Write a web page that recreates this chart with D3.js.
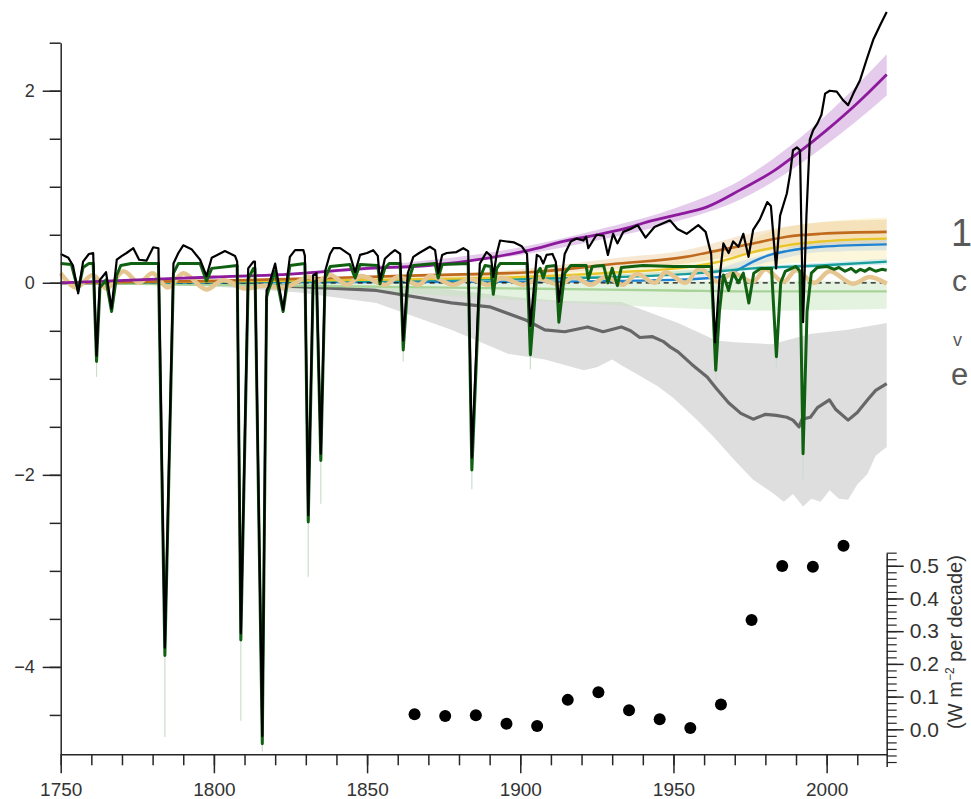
<!DOCTYPE html>
<html>
<head>
<meta charset="utf-8">
<script src="https://cdn.jsdelivr.net/npm/d3@7"></script>
<style>
  body { margin: 0; background: #fff; }
  svg { display: block; }
  text { font-family: "Liberation Sans", Arial, sans-serif; }
</style>
</head>
<body>
<svg id="chart" width="971" height="799"></svg>
<script>
// total forcing (black), [year, W m-2]
var totalForcing = [
    [1750.0,0.30],[1752.5,0.26],[1754.0,0.18],[1755.7,-0.11],[1757.3,0.22],[1759.2,0.30],[1760.6,0.31],
    [1761.7,-0.76],[1762.8,0.03],[1764.8,0.11],[1766.6,-0.27],[1768.3,0.24],[1770.0,0.28],[1771.5,0.31],
    [1773.7,0.36],[1775.6,0.24],[1778.0,0.23],[1780.2,0.37],[1781.9,0.36],[1784.0,-3.80],[1786.8,0.20],
    [1788.4,0.31],[1790.0,0.39],[1792.7,0.35],[1795.5,0.24],[1797.6,0.07],[1799.3,0.26],[1803.6,0.33],
    [1806.9,0.28],[1807.6,0.22],[1808.8,-3.65],[1811.2,0.15],[1812.9,0.22],[1813.4,0.22],[1815.8,-4.72],
    [1817.2,-0.08],[1817.8,-0.04],[1820.0,0.20],[1822.6,-0.28],[1824.8,0.27],[1826.5,0.34],[1829.2,0.34],
    [1829.7,0.28],[1830.8,-2.42],[1832.4,0.08],[1833.5,0.10],[1834.9,-1.78],[1836.3,0.12],[1837.9,0.30],
    [1839.0,0.36],[1841.2,0.36],[1844.4,0.29],[1846.1,0.11],[1847.7,0.29],[1850.0,0.31],[1852.0,0.34],
    [1853.5,0.28],[1854.2,0.02],[1855.8,0.25],[1857.5,0.30],[1859.1,0.34],[1860.8,0.30],[1861.8,-0.60],
    [1863.3,0.10],[1865.1,0.27],[1867.0,0.31],[1870.5,0.375],[1872.2,0.34],[1873.2,0.10],[1874.5,0.29],
    [1876.0,0.31],[1879.2,0.32],[1881.4,0.36],[1883.0,0.33],[1884.2,-1.82],[1886.8,0.20],[1889.0,0.32],
    [1890.4,0.28],[1891.2,0.06],[1892.3,0.30],[1893.4,0.44],[1895.6,0.43],[1898.0,0.42],[1900.5,0.38],
    [1902.2,0.30],[1903.3,-0.45],[1905.4,0.29],[1906.5,0.27],[1907.5,0.20],[1908.6,0.29],[1910.5,0.30],
    [1911.6,0.22],[1912.6,-0.20],[1914.5,0.30],[1916.5,0.43],[1918.4,0.46],[1920.6,0.44],[1921.5,0.48],
    [1922.2,0.36],[1924.9,0.50],[1927.2,0.49],[1928.6,0.29],[1930.3,0.51],[1931.7,0.41],[1933.6,0.53],
    [1936.0,0.56],[1938.3,0.60],[1940.9,0.47],[1943.8,0.58],[1948.9,0.65],[1951.3,0.56],[1954.3,0.51],
    [1958.1,0.60],[1960.5,0.53],[1962.3,0.30],[1963.6,-0.62],[1965.0,0.03],[1966.3,0.41],[1968.0,0.31],
    [1969.5,0.43],[1971.2,0.375],[1972.8,0.51],[1974.5,0.27],[1976.0,0.55],[1978.2,0.66],[1980.6,0.84],
    [1981.8,0.80],[1983.5,0.15],[1984.8,0.70],[1987.0,0.93],[1988.1,1.14],[1989.0,1.38],[1990.3,1.41],
    [1991.3,1.38],[1992.3,-0.41],[1993.4,0.70],[1994.5,1.49],[1995.6,1.59],[1997.0,1.66],[1998.3,1.75],
    [1999.5,1.97],[2001.0,2.00],[2003.3,1.99],[2005.4,1.90],[2007.0,1.85],[2008.7,1.97],[2010.9,2.11],
    [2013.0,2.32],[2015.2,2.53],[2017.4,2.68],[2019.6,2.82]
];

// volcanic forcing (dark green)
var volcanic = [
    [1750.0,0.20],[1753.5,0.19],[1755.7,-0.08],[1757.3,0.16],[1759.2,0.20],[1760.6,0.20],[1761.7,-0.82],
    [1762.8,-0.05],[1764.8,0.03],[1766.6,-0.30],[1768.3,0.08],[1769.6,0.18],[1773.0,0.20],[1781.9,0.20],
    [1784.0,-3.88],[1786.8,0.10],[1788.4,0.20],[1795.5,0.20],[1797.6,0.02],[1799.3,0.15],[1807.6,0.18],
    [1808.8,-3.72],[1811.2,0.04],[1812.9,0.15],[1813.4,0.15],[1815.8,-4.80],[1817.2,-0.15],[1817.8,-0.08],
    [1820.0,0.12],[1822.6,-0.30],[1824.8,0.18],[1829.7,0.20],[1830.8,-2.49],[1832.4,0.00],[1833.5,0.02],
    [1834.9,-1.85],[1836.3,0.05],[1838.0,0.17],[1844.4,0.19],[1846.1,0.05],[1847.7,0.19],[1853.5,0.18],
    [1854.2,-0.01],[1855.8,0.15],[1857.2,0.20],[1860.8,0.20],[1861.8,-0.70],[1863.3,0.00],[1865.1,0.18],
    [1872.2,0.20],[1873.2,0.05],[1874.5,0.19],[1883.0,0.20],[1884.2,-1.95],[1886.8,0.05],[1888.5,0.18],
    [1890.4,0.17],[1891.2,-0.12],[1892.3,0.15],[1893.4,0.20],[1902.2,0.20],[1903.3,-0.75],[1905.4,0.10],
    [1906.5,0.15],[1907.5,0.05],[1908.6,0.17],[1911.6,0.18],[1912.6,-0.41],[1914.5,0.10],[1916.5,0.18],
    [1921.5,0.18],[1922.2,0.04],[1923.5,0.17],[1927.2,0.18],[1928.6,0.00],[1930.0,0.15],[1931.7,-0.03],
    [1933.0,0.16],[1940.0,0.18],[1950.0,0.17],[1962.3,0.17],[1963.8,-0.91],[1965.0,-0.30],[1966.3,0.08],
    [1968.0,-0.08],[1969.5,0.10],[1971.2,0.00],[1972.8,0.10],[1974.6,-0.21],[1976.2,0.10],[1978.5,0.15],
    [1982.0,0.15],[1983.6,-0.77],[1985.0,0.00],[1986.5,0.12],[1990.0,0.17],[1991.3,0.12],[1992.3,-1.78],
    [1993.6,-0.30],[1995.0,0.10],[1997.0,0.16],[2000.0,0.17],[2002.5,0.14],[2004.0,0.16],[2006.0,0.12],
    [2008.0,0.15],[2009.5,0.11],[2011.0,0.14],[2012.5,0.12],[2014.0,0.15],[2016.0,0.12],[2018.0,0.14],
    [2019.6,0.13]
];

// faint tails below the volcanic spikes: [year, tip, tail]
var volcanicTails = [
    [1761.7,-0.82,-0.98],[1784.0,-3.88,-4.73],[1808.8,-3.72,-4.56],[1815.8,-4.80,-4.88],[1830.8,-2.49,-3.06],
    [1834.9,-1.85,-2.30],[1861.8,-0.70,-0.82],[1884.2,-1.95,-2.15],[1903.3,-0.75,-0.90],[1912.6,-0.41,-0.50],
    [1963.8,-0.91,-1.02],[1983.6,-0.77,-0.90],[1992.3,-1.78,-2.05]
];

// CO2 (purple)
var co2 = [
    [1750,0.00],[1775,0.03],[1800,0.06],[1825,0.09],[1850,0.15],[1870,0.18],[1890,0.26],[1903,0.34],
    [1914,0.43],[1925,0.50],[1936,0.58],[1940,0.62],[1950,0.70],[1961,0.79],[1972,0.97],[1983,1.17],
    [1991,1.36],[2000,1.59],[2010,1.87],[2019.6,2.17]
];
var co2Band = [
    [1750,0,0],[1850,0.13,0.17],[1900,0.29,0.37],[1925,0.44,0.55],[1950,0.63,0.77],[1972,0.87,1.07],
    [1991,1.23,1.50],[2000,1.44,1.75],[2010,1.69,2.06],[2019.6,1.95,2.38]
];

// aerosols (grey)
var aerosol = [
    [1750,0.00],[1800,-0.01],[1828,-0.04],[1853,-0.08],[1877.5,-0.21],[1890,-0.25],[1902,-0.39],[1908,-0.49],
    [1914.5,-0.51],[1922,-0.46],[1927,-0.51],[1933,-0.46],[1936,-0.50],[1939,-0.57],[1943,-0.56],[1946.6,-0.61],
    [1949,-0.67],[1951.5,-0.72],[1956,-0.85],[1961,-0.98],[1964,-1.10],[1968,-1.25],[1972,-1.36],[1976,-1.42],
    [1980,-1.37],[1983.6,-1.38],[1987,-1.40],[1989,-1.43],[1991,-1.50],[1992,-1.42],[1994.7,-1.40],[1997,-1.30],
    [2000.9,-1.22],[2003,-1.32],[2007,-1.43],[2010,-1.35],[2013.3,-1.22],[2016,-1.12],[2019.6,-1.05]
];
var aerosolUpper = [
    [1750,0],[1828,-0.01],[1853,-0.03],[1877,-0.07],[1890,-0.12],[1902,-0.16],[1914,-0.19],[1933,-0.20],
    [1939,-0.27],[1951.5,-0.42],[1964,-0.60],[1970,-0.62],[1982,-0.64],[1995,-0.53],[2007,-0.49],[2019.6,-0.42]
];
var aerosolLower = [
    [1750,0],[1800,-0.04],[1828,-0.10],[1853,-0.21],[1877.5,-0.49],[1896,-0.74],[1908,-0.80],[1920.7,-0.91],
    [1925,-0.88],[1930,-0.80],[1933,-0.86],[1938,-0.95],[1945,-1.08],[1950,-1.20],[1957.7,-1.43],[1963,-1.60],
    [1970,-1.85],[1976,-2.05],[1982.4,-2.19],[1986,-2.28],[1989,-2.20],[1992.3,-2.33],[1995,-2.25],[1998,-2.28],
    [2001,-2.16],[2004,-2.25],[2007,-2.26],[2010,-2.10],[2013.3,-1.99],[2016,-1.80],[2019.6,-1.71]
];

// methane (brown), ozone (yellow), halogens (blue), N2O (teal), land use (light green)
var methane = [
    [1750,0.00],[1800,0.02],[1838,0.05],[1870,0.08],[1903,0.11],[1932,0.20],[1954,0.27],[1965,0.34],
    [1976,0.41],[1987,0.48],[1998,0.51],[2019.6,0.53]
];
var methaneBand = [
    [1750,0,0],[1850,0.03,0.07],[1900,0.08,0.14],[1932,0.15,0.26],[1954,0.20,0.34],[1976,0.31,0.52],
    [1998,0.39,0.63],[2019.6,0.41,0.66]
];
var ozone = [
    [1750,0.00],[1850,0.03],[1900,0.06],[1932,0.11],[1954,0.16],[1965,0.22],[1976,0.32],[1987,0.39],
    [1998,0.43],[2019.6,0.46]
];
var ozoneBand = [
    [1750,0,0],[1900,0.03,0.09],[1932,0.06,0.16],[1965,0.12,0.33],[1987,0.20,0.58],[2019.6,0.24,0.68]
];
var halogens = [
    [1750,0.00],[1900,0.01],[1950,0.03],[1965,0.06],[1970.6,0.13],[1976,0.22],[1981.5,0.29],[1987,0.33],
    [1998,0.375],[2019.6,0.40]
];
var halogensBand = [[1750,0,0],[1950,0.02,0.04],[1976,0.18,0.26],[1998,0.32,0.43],[2019.6,0.34,0.46]];
var n2o = [[1750,0.00],[1850,0.02],[1900,0.04],[1932,0.06],[1954,0.09],[1976,0.15],[1998,0.18],[2019.6,0.22]];
var n2oBand = [[1750,0,0],[1900,0.03,0.05],[1976,0.13,0.17],[2019.6,0.19,0.25]];
var landUse = [[1750,0.00],[1800,-0.02],[1850,-0.04],[1900,-0.06],[1950,-0.08],[1980,-0.09],[2019.6,-0.09]];
var landUseBand = [
    [1750,0,0],[1800,-0.04,0.00],[1850,-0.09,0.00],[1900,-0.18,0.01],[1950,-0.26,0.02],[1980,-0.29,0.02],
    [2019.6,-0.27,0.02]
];

// solar (tan), peaks and troughs of the cycles
var solar = [
    [1750,0.10],[1755,-0.05],[1760.5,0.08],[1765,-0.06],[1770.5,0.12],[1775.5,0.00],[1780,0.10],[1785,-0.05],
    [1790,0.10],[1797.5,-0.07],[1803,0.03],[1810,-0.06],[1816,-0.03],[1823,-0.05],[1831,0.06],[1834,0.02],
    [1838,0.08],[1843.5,-0.02],[1848,0.07],[1856,-0.02],[1860,0.06],[1867,-0.02],[1870.5,0.07],[1878,-0.02],
    [1883.5,0.04],[1889.5,-0.02],[1894,0.05],[1901,-0.02],[1906,0.04],[1913,-0.02],[1917.5,0.06],[1923,-0.02],
    [1928,0.06],[1933.5,-0.02],[1938,0.09],[1944,0.00],[1947.5,0.11],[1954,0.00],[1958.5,0.15],[1964.5,0.01],
    [1969.5,0.10],[1976,0.01],[1980,0.14],[1986,0.01],[1990,0.13],[1996,0.00],[2001,0.12],[2008.5,-0.01],
    [2014,0.06],[2019.6,-0.01]
];

// decadal rate of change, right axis (W m-2 per decade)
var decadeMid = [1865.5,1875.5,1885.5,1895.5,1905.5,1915.5,1925.5,1935.5,1945.5,1955.5,1965.5,1975.5,1985.5,1995.5,2005.5];
var decadeRate = [0.046,0.041,0.043,0.017,0.010,0.090,0.113,0.058,0.031,0.004,0.076,0.334,0.499,0.497,0.561];

var yearTicks = [1750,1800,1850,1900,1950,2000];
var forcingTicks = [-4,-2,0,2];
var rateTicks = [0.0,0.1,0.2,0.3,0.4,0.5];

(function(){
    var svg = d3.select('#chart');

    var x = d3.scaleLinear().domain([1750, 2019.6]).range([60.7, 886.7]);
    var y = d3.scaleLinear().domain([-4.91, 2.5]).range([754.3, 42.7]);
    var yRate = d3.scaleLinear().domain([-0.114, 0.539]).range([766.6, 553]);

    function drawBand(data, fill){
        var area = d3.area()
            .x(function(d){ return x(d[0]); })
            .y0(function(d){ return y(d[1]); })
            .y1(function(d){ return y(d[2]); })
            .curve(d3.curveMonotoneX);
        svg.append('path').datum(data).attr('d', area).attr('fill', fill);
    }

    function drawLine(data, color, width, curve){
        var line = d3.line()
            .x(function(d){ return x(d[0]); })
            .y(function(d){ return y(d[1]); })
            .curve(curve || d3.curveLinear);
        return svg.append('path').datum(data)
            .attr('d', line)
            .attr('fill', 'none')
            .attr('stroke', color)
            .attr('stroke-width', width)
            .attr('stroke-linejoin', 'round');
    }

    // aerosol band: upper edge left to right, then lower edge back
    var edge = d3.line().x(function(d){ return x(d[0]); }).y(function(d){ return y(d[1]); });
    svg.append('path')
        .attr('d', edge(aerosolUpper.concat(aerosolLower.slice().reverse())) + 'Z')
        .attr('fill', '#dedede');

    drawBand(landUseBand, 'rgba(196,226,186,0.45)');
    drawBand(ozoneBand, 'rgba(246,228,150,0.35)');
    drawBand(methaneBand, 'rgba(232,190,130,0.35)');
    drawBand(halogensBand, 'rgba(170,200,230,0.35)');
    drawBand(n2oBand, 'rgba(140,205,205,0.35)');
    drawBand(co2Band, 'rgba(205,160,220,0.55)');

    // faint tails under the eruptions
    svg.selectAll('.tail').data(volcanicTails).enter().append('line')
        .attr('class', 'tail')
        .attr('x1', function(d){ return x(d[0]); })
        .attr('x2', function(d){ return x(d[0]); })
        .attr('y1', function(d){ return y(d[1]); })
        .attr('y2', function(d){ return y(d[2]); })
        .attr('stroke', '#cfdccf')
        .attr('stroke-width', 1.2);

    drawLine(aerosol, '#676767', 3.2);
    drawLine(landUse, '#a8d398', 2.4, d3.curveMonotoneX);
    drawLine(halogens, '#1f83d2', 2.4, d3.curveMonotoneX);

    svg.append('line')
        .attr('x1', x(1750)).attr('x2', x(2019.6))
        .attr('y1', y(0)).attr('y2', y(0))
        .attr('stroke', '#111')
        .attr('stroke-width', 1.3)
        .attr('stroke-dasharray', '5,4');

    drawLine(n2o, '#179d9b', 2.4, d3.curveMonotoneX);
    drawLine(ozone, '#e8c628', 2.4, d3.curveMonotoneX);
    drawLine(methane, '#c06a1e', 2.6, d3.curveMonotoneX);
    drawLine(solar, '#e6c690', 4.5, d3.curveCatmullRom);
    drawLine(co2, '#8d1a9c', 2.8, d3.curveMonotoneX);
    drawLine(volcanic, '#106012', 3.0);
    drawLine(totalForcing, '#000', 2.2);

    // axes
    var axisColor = '#262626';
    function styleAxis(g){
        g.selectAll('path, line').attr('stroke', axisColor).attr('stroke-width', 1.5);
        g.selectAll('text').attr('fill', '#333').attr('font-size', 18);
    }

    svg.append('g').attr('transform', 'translate(0,754.3)')
        .call(d3.axisBottom(x).tickValues(d3.range(1750, 2020, 10)).tickSize(11).tickSizeOuter(0).tickFormat(''))
        .call(styleAxis);
    svg.append('g').attr('transform', 'translate(0,754.3)')
        .call(d3.axisBottom(x).tickValues(yearTicks).tickSize(19).tickSizeOuter(0).tickPadding(9).tickFormat(d3.format('d')))
        .call(styleAxis)
        .call(function(g){ g.select('.domain').remove(); g.selectAll('text').attr('font-size', 19); });

    svg.append('g').attr('transform', 'translate(60.7,0)')
        .call(d3.axisLeft(y).tickValues(d3.range(-4.5, 2.51, 0.5)).tickSize(11).tickSizeOuter(0).tickFormat(''))
        .call(styleAxis);
    svg.append('g').attr('transform', 'translate(60.7,0)')
        .call(d3.axisLeft(y).tickValues(forcingTicks).tickSize(18).tickSizeOuter(0).tickPadding(8)
            .tickFormat(function(d){ return d < 0 ? '\u2212' + Math.abs(d) : d; }))
        .call(styleAxis)
        .call(function(g){ g.select('.domain').remove(); });

    svg.append('g').attr('transform', 'translate(886.7,0)')
        .call(d3.axisRight(yRate).tickValues(d3.range(-0.1, 0.541, 0.02)).tickSize(10).tickSizeOuter(0).tickFormat(''))
        .call(styleAxis)
        .call(function(g){ g.selectAll('line').attr('stroke-width', 1.2); });
    svg.append('g').attr('transform', 'translate(886.7,0)')
        .call(d3.axisRight(yRate).tickValues(rateTicks).tickSize(17).tickSizeOuter(0).tickPadding(6).tickFormat(d3.format('.1f')))
        .call(styleAxis)
        .call(function(g){ g.select('.domain').remove(); g.selectAll('text').attr('font-size', 21); });

    // decadal dots
    svg.selectAll('.dot').data(decadeRate).enter().append('circle')
        .attr('class', 'dot')
        .attr('cx', function(d, i){ return x(decadeMid[i]); })
        .attr('cy', function(d){ return yRate(d); })
        .attr('r', 6)
        .attr('fill', '#000');

    // right axis title
    var title = svg.append('text')
        .attr('transform', 'translate(962,642) rotate(-90)')
        .attr('text-anchor', 'middle')
        .attr('font-size', 20)
        .attr('fill', '#333');
    title.append('tspan').text('(W m');
    title.append('tspan').attr('font-size', 12).attr('dy', -8).text('\u22122');
    title.append('tspan').attr('dy', 8).text('  per decade)');

    // text of the neighbouring slide, cut off at the edge
    var side = svg.append('g').attr('fill', '#595959').style('font-family', '"Noto Sans", sans-serif');
    side.append('text').attr('x', 951).attr('y', 246).attr('font-size', 38).text('1');
    side.append('text').attr('x', 952).attr('y', 291).attr('font-size', 30).text('c');
    side.append('text').attr('x', 953).attr('y', 346).attr('font-size', 18).text('v');
    side.append('text').attr('x', 951).attr('y', 385).attr('font-size', 31).text('e');
})();
</script>
</body>
</html>
